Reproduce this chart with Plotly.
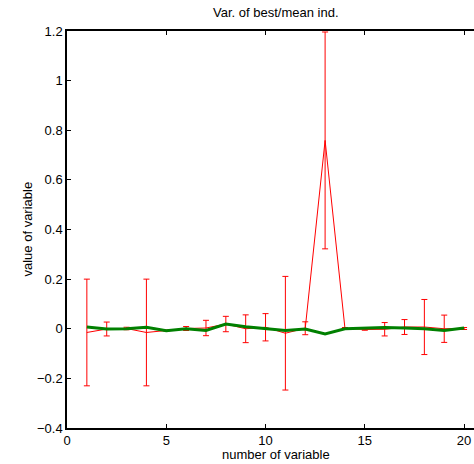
import plotly.graph_objects as go

variables = list(range(1, 21))
mean_vals = [-0.015, -0.001, 0.001, -0.015, -0.007, 0.001, 0.003, 0.019, 0.0, 0.006,
             -0.018, 0.002, 0.759, 0.002, -0.003, -0.002, 0.007, 0.007, 0.0, 0.001]
mean_err = [0.215, 0.028, 0.005, 0.215, 0.002, 0.008, 0.031, 0.031, 0.056, 0.055,
            0.229, 0.026, 0.437, 0.003, 0.003, 0.027, 0.03, 0.111, 0.055, 0.004]
best_vals = [0.007, -0.001, 0.0, 0.006, -0.008, 0.0, -0.007, 0.019, 0.008, -0.001,
             -0.007, -0.001, -0.021, 0.0, 0.003, 0.005, 0.003, 0.0, -0.007, 0.003]

W, H = 474, 464
L, R, T, B = 67, 0, 31, 36
pw = W - L - R
ph = H - T - B

fig = go.Figure()
fig.add_trace(go.Scatter(
    x=variables, y=mean_vals, mode="lines",
    line=dict(color="#ff0000", width=1),
    error_y=dict(type="data", array=mean_err, visible=True, color="#ff0000",
                 thickness=1, width=3),
    showlegend=False))
fig.add_trace(go.Scatter(
    x=variables, y=best_vals, mode="lines",
    line=dict(color="#008000", width=3),
    showlegend=False))

font = dict(family="Liberation Sans, Arial, sans-serif", size=13, color="black")
cx = (276 - L) / pw

fig.update_layout(
    width=W, height=H,
    margin=dict(l=L, r=R, t=T, b=B, pad=0),
    paper_bgcolor="white", plot_bgcolor="white",
    font=font,
    showlegend=False,
    xaxis=dict(range=[0, 20.5], tickvals=[0, 5, 10, 15, 20],
               ticks="inside", ticklen=4, tickcolor="black", tickwidth=1,
               showline=True, linecolor="black", linewidth=1.5, mirror="ticks",
               showgrid=False, zeroline=False, tickfont=font),
    yaxis=dict(range=[-0.4, 1.2], tickvals=[-0.4, -0.2, 0, 0.2, 0.4, 0.6, 0.8, 1, 1.2],
               ticktext=["\u22120.4", "\u22120.2", "0", "0.2", "0.4", "0.6", "0.8", "1", "1.2"],
               ticks="inside", ticklen=4, tickcolor="black", tickwidth=1,
               showline=True, linecolor="black", linewidth=1.5, mirror=False,
               showgrid=False, zeroline=False, tickfont=font),
    annotations=[
        dict(text="Var. of best/mean ind.", x=cx, y=1 + (T - 12) / ph,
             xref="paper", yref="paper",
             showarrow=False, font=font, xanchor="center", yanchor="middle"),
        dict(text="number of variable", x=cx, y=-(455 - (H - B)) / ph,
             xref="paper", yref="paper",
             showarrow=False, font=font, xanchor="center", yanchor="middle"),
        dict(text="value of variable", x=-(L - 27) / pw, y=0.5,
             xref="paper", yref="paper", textangle=-90,
             showarrow=False, font=font, xanchor="center", yanchor="middle"),
    ],
)

fig.write_html("out.html")
